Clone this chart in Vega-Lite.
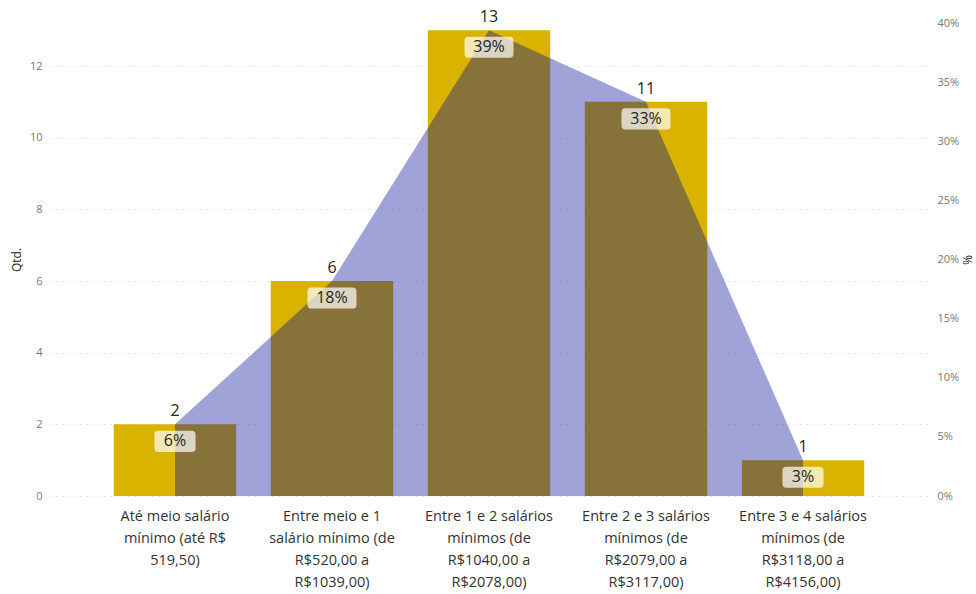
{
  "$schema": "https://vega.github.io/schema/vega-lite/v6.json",
  "width": 878,
  "height": 473,
  "autosize": "none",
  "padding": {"left": 50, "top": 23, "right": 48, "bottom": 98},
  "background": "white",
  "config": {
    "font": "Open Sans",
    "view": {"stroke": null}
  },
  "data": {
    "values": [
      {"cat": "Até meio salário|mínimo (até R$|519,50)", "qtd": 2, "pct": 0.0606, "lbl": "6%"},
      {"cat": "Entre meio e 1|salário mínimo (de|R$520,00 a|R$1039,00)", "qtd": 6, "pct": 0.1818, "lbl": "18%"},
      {"cat": "Entre 1 e 2 salários|mínimos (de|R$1040,00 a|R$2078,00)", "qtd": 13, "pct": 0.3939, "lbl": "39%"},
      {"cat": "Entre 2 e 3 salários|mínimos (de|R$2079,00 a|R$3117,00)", "qtd": 11, "pct": 0.3333, "lbl": "33%"},
      {"cat": "Entre 3 e 4 salários|mínimos (de|R$3118,00 a|R$4156,00)", "qtd": 1, "pct": 0.0303, "lbl": "3%"}
    ]
  },
  "encoding": {
    "x": {
      "field": "cat", "type": "nominal", "sort": null,
      "scale": {"paddingInner": 0.22, "paddingOuter": 0.406},
      "axis": {
        "title": null, "labelAngle": 0, "domain": false, "ticks": false,
        "labelExpr": "split(datum.label, '|')",
        "labelFontSize": 14.5, "labelColor": "#333333", "labelLimit": 300,
        "labelLineHeight": 22.3, "labelPadding": 13, "labelBaseline": "top"
      }
    }
  },
  "layer": [
    {
      "mark": {"type": "bar", "color": "#D9B300"},
      "encoding": {
        "y": {
          "field": "qtd", "type": "quantitative",
          "scale": {"domain": [0, 13.2], "nice": false},
          "axis": {
            "title": "Qtd.", "values": [0, 2, 4, 6, 8, 10, 12],
            "domain": false, "ticks": false, "labelPadding": 8,
            "labelColor": "#777777", "labelFontSize": 11,
            "grid": true, "gridColor": "#d0d0d0", "gridDash": [1, 5],
            "titleFontSize": 12, "titleFontWeight": "normal", "titleColor": "#222222",
            "titlePadding": 6
          }
        }
      }
    },
    {
      "mark": {"type": "area", "color": "#000B98", "opacity": 0.376},
      "encoding": {
        "y": {
          "field": "pct", "type": "quantitative",
          "scale": {"domain": [0, 0.4], "nice": false},
          "axis": {
            "title": "%", "orient": "right", "format": ".0%",
            "values": [0, 0.05, 0.1, 0.15, 0.2, 0.25, 0.3, 0.35, 0.4],
            "domain": false, "ticks": false, "grid": false, "labelPadding": 9,
            "labelColor": "#777777", "labelFontSize": 11,
            "titleFontSize": 12, "titleFontWeight": "normal", "titleColor": "#222222",
            "titlePadding": 1
          }
        }
      }
    },
    {
      "mark": {"type": "text", "baseline": "bottom", "dy": -5, "fontSize": 16, "color": "#252525"},
      "encoding": {
        "y": {"field": "qtd", "type": "quantitative", "scale": {"domain": [0, 13.2], "nice": false}, "axis": null},
        "text": {"field": "qtd"}
      }
    },
    {
      "mark": {"type": "point", "filled": true, "color": "white", "opacity": 0.7, "yOffset": 17, "strokeWidth": 0},
      "encoding": {
        "y": {"field": "pct", "type": "quantitative", "scale": {"domain": [0, 0.4], "nice": false}, "axis": null},
        "size": {"value": 2401},
        "shape": {
          "condition": {"test": "datum.pct < 0.1", "value": "M-0.68,-0.43 L0.68,-0.43 Q0.84,-0.43 0.84,-0.27 L0.84,0.27 Q0.84,0.43 0.68,0.43 L-0.68,0.43 Q-0.84,0.43 -0.84,0.27 L-0.84,-0.27 Q-0.84,-0.43 -0.68,-0.43 Z"},
          "value": "M-0.84,-0.43 L0.84,-0.43 Q1,-0.43 1,-0.27 L1,0.27 Q1,0.43 0.84,0.43 L-0.84,0.43 Q-1,0.43 -1,0.27 L-1,-0.27 Q-1,-0.43 -0.84,-0.43 Z"
        }
      }
    },
    {
      "mark": {"type": "text", "baseline": "middle", "yOffset": 17, "fontSize": 16, "color": "#252525"},
      "encoding": {
        "y": {"field": "pct", "type": "quantitative", "scale": {"domain": [0, 0.4], "nice": false}, "axis": null},
        "text": {"field": "lbl"}
      }
    }
  ],
  "resolve": {"scale": {"y": "independent"}}
}
